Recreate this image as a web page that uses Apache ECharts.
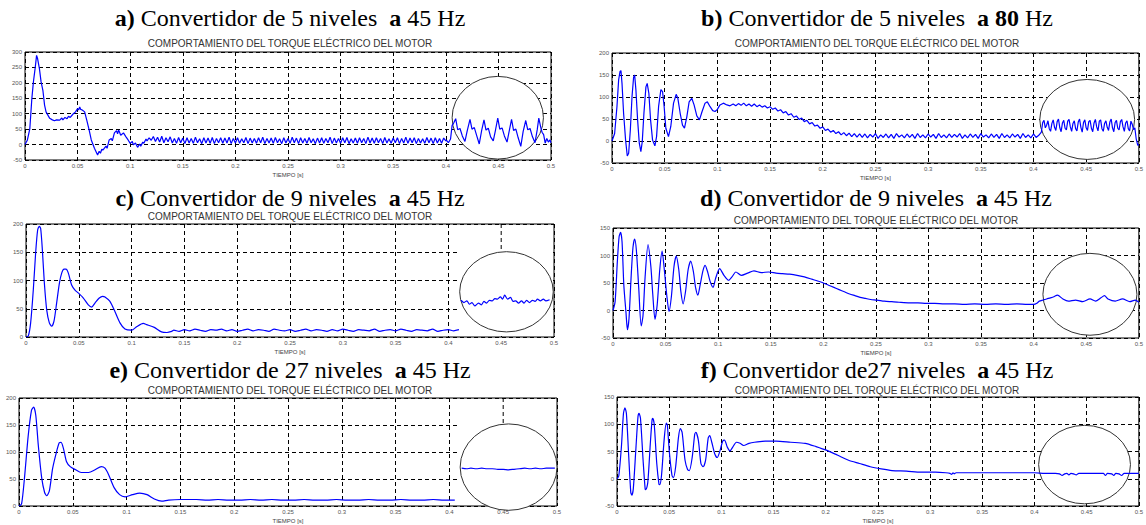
<!DOCTYPE html>
<html>
<head>
<meta charset="utf-8">
<script src="https://cdn.jsdelivr.net/npm/echarts@6/dist/echarts.min.js"></script>
<style>
  html, body { margin: 0; padding: 0; background: #fff; }
  #chart { width: 1146px; height: 525px; }
</style>
</head>
<body>
<div id="chart"></div>
<script>
// a) 5 niveles 45 Hz
const aStart = [[0,0],[0.0023,15],[0.0046,52],[0.0065,149],[0.008,203],[0.0098,252],[0.011,289],[0.012,278],[0.0137,246],[0.0153,203],[0.017,176],[0.0186,128],[0.020,106],[0.0235,85],[0.026,80],[0.028,77],[0.030,80],[0.033,79],[0.035,86],[0.036,80],[0.038,88],[0.040,84],[0.0414,92],[0.043,88],[0.0447,95],[0.046,100],[0.048,106],[0.050,117],[0.051,112],[0.052,122],[0.053,114],[0.0544,112],[0.0567,106],[0.0587,79],[0.061,47],[0.063,15],[0.066,-12],[0.069,-34],[0.0705,-22],[0.0717,-28],[0.073,-15],[0.074,-18],[0.077,-5],[0.078,-12],[0.080,15],[0.082,20],[0.083,12],[0.085,38],[0.087,45],[0.088,35],[0.089,47],[0.091,30],[0.0936,38],[0.096,25],[0.098,15],[0.100,4],[0.102,10],[0.103,-1],[0.105,5],[0.107,-9],[0.109,2],[0.110,-5],[0.112,8],[0.113,4],[0.115,18],[0.116,12],[0.118,22],[0.120,14]];
const aRipple = [26,10,24,8,27,6,22,9,25,5, 20,4,23,6,21,3,22,5,20,4, 24,6,19,3,22,5,21,4,23,3, 20,6,22,4,21,5,24,3,20,5, 22,4,19,6,23,3,21,5,20,4, 22,6,24,3,20,5,21,4,23,6, 19,3,22,5,20,4,24,6,21,3, 22,5,20,4,23,6,19,3,21,5, 22,4,20,6,24,3,21,5,20,4, 22,6,23,3,19,5,21,4,22,6, 20,3,24,5,21,4,22,6,20,3, 23,5,19,4,21,6,22,3,20,5, 24,4,21,6,22,3,20,5,19,4, 23,6,21,3,22,5,20,4,21,12];
const aZoom = [[0.4005,14],[0.4025,6],[0.4045,18],[0.4060,62],[0.4075,70],[0.4094,84],[0.4113,48],[0.4135,52],[0.4157,28],[0.4182,10],[0.4204,45],[0.423,82],[0.4249,50],[0.4271,55],[0.4293,30],[0.4318,2],[0.434,44],[0.4363,80],[0.4382,47],[0.4404,53],[0.4426,25],[0.4451,12],[0.4473,48],[0.4494,86],[0.4513,50],[0.4535,54],[0.4557,28],[0.4582,8],[0.4604,46],[0.4625,82],[0.4644,46],[0.4666,50],[0.4688,22],[0.4713,-6],[0.4735,42],[0.476,78],[0.4779,48],[0.4801,52],[0.4823,26],[0.4848,6],[0.487,50],[0.4884,86],[0.4903,55],[0.4915,40],[0.493,32],[0.4945,5],[0.496,20],[0.4975,8],[0.499,15],[0.5,6]];
const aInset = [0.4494, 87, 0.0434, 134, 0];

// b) 5 niveles 80 Hz
const bStart = [[0,0],[0.0025,17],[0.0047,78],[0.0063,139],[0.0076,158],[0.0085,160],[0.0095,131],[0.011,63],[0.0129,2],[0.0145,-34],[0.0158,-28],[0.0174,25],[0.019,101],[0.0205,145],[0.0215,150],[0.0227,116],[0.0243,48],[0.0259,-5],[0.0274,-24],[0.0287,-2],[0.0303,63],[0.0322,123],[0.0334,131],[0.035,108],[0.0366,48],[0.0385,2],[0.0407,-11],[0.0423,10],[0.0442,78],[0.0464,117],[0.048,112],[0.0495,78],[0.0511,29],[0.0536,10],[0.0558,33],[0.0584,86],[0.0609,106],[0.0625,97],[0.0647,63],[0.0669,36],[0.0688,29],[0.071,55],[0.0732,89],[0.0757,97],[0.0779,82],[0.0805,57],[0.083,48],[0.0855,67],[0.0883,86],[0.0905,89],[0.0931,78],[0.0956,69],[0.0978,67],[0.1,72],[0.1025,82],[0.1057,86],[0.109,82],[0.112,80]];
const bRipple = [84,80,85,81,86,80,84,79,84,78, 82,77,80,75,78,72,75,68,71,64, 67,59,62,54,57,49,52,44,47,39, 42,34,36,29,32,24,27,20,24,17, 21,14,19,12,18,10,17,9,16, 8,16,7,15,9,17,6,14,8,16, 7,15,6,17,9,14,7,16,8,15, 6,17,8,14,7,16,9,15,6,17, 8,14,7,16,8,15,9,17,6,14, 7,16,8,15,6,17,9,14,7,16, 8,15,6,17,8,14,7,16,9,15, 6,17,8,14,7,16,8,13];
const bZoom = [20,42,47,30,36,46,28,22,40,48, 31,24,44,50,30,21,41,47,29,25, 45,49,32,22,40,46,28,23,43,50, 31,20,42,48,30,24,44,47,29,21, 41,49,32,23,45,48,28,22,40,46, 31,24,43,50,30,21,42,47,29,25, 44,49,32,22,41,46,28,23,45,38, 26];
const bEnd = [[0.4962,30],[0.4975,5],[0.499,-10],[0.5,-8]];
const bInset = [0.451, 49, 0.045, 91, 0];

// c) 9 niveles 45 Hz
const cStart = [[0,0],[0.0022,2],[0.0044,25],[0.0069,83],[0.0091,148],[0.011,189],[0.0126,196],[0.0139,192],[0.0155,154],[0.0174,95],[0.0196,48],[0.0221,25],[0.0243,19],[0.0265,28],[0.029,60],[0.0316,95],[0.0338,113],[0.036,120],[0.0379,120],[0.0401,113],[0.0432,92],[0.0464,83],[0.0495,78],[0.0543,69],[0.059,57],[0.0622,53],[0.0653,60],[0.0694,69],[0.0725,72],[0.0748,71],[0.0795,63],[0.0842,45],[0.089,25],[0.0937,14],[0.1,12],[0.1047,18],[0.111,24],[0.1142,22],[0.1215,17],[0.1283,9],[0.1335,8],[0.138,10]];
const cRipple = [12,10,13,11,14,12,10,13,12,14, 11,13,10,12,14,11,13,12,10,14, 12,11,13,10,12,14,11,13,12,10, 13,11,14,12,10,13,12,11,14,10, 12,13,11,14,12,10,13,12,11,14, 10,12,13,11,13];
const cZoom = [[0.4119,65],[0.4147,61],[0.4175,64],[0.4199,58],[0.4223,61],[0.425,55],[0.4285,60],[0.4313,57],[0.4337,63],[0.4361,60],[0.4388,65],[0.4416,64],[0.444,68],[0.4464,67],[0.4492,71],[0.4513,67],[0.4533,74],[0.4561,67],[0.4588,70],[0.4613,63],[0.4637,64],[0.4664,60],[0.4692,64],[0.4716,60],[0.474,65],[0.4768,61],[0.4796,65],[0.482,63],[0.4844,67],[0.4871,64],[0.4899,67],[0.4923,64],[0.4958,66]];
const cInset = [0.455, 80, 0.0443, 71, 0.409];

// d) 9 niveles 45 Hz
const dStart = [[0,0],[0.002,16],[0.0041,88],[0.0058,134],[0.0072,142],[0.0086,125],[0.0103,46],[0.0124,-5],[0.0137,-35],[0.0152,-15],[0.0172,60],[0.019,115],[0.0206,130],[0.0222,110],[0.0245,40],[0.0268,-28],[0.0285,-10],[0.0305,60],[0.0333,120],[0.036,80],[0.0378,30],[0.0399,-16],[0.042,10],[0.0445,75],[0.0467,108],[0.049,70],[0.051,30],[0.0533,-2],[0.0555,25],[0.058,80],[0.0601,99],[0.0625,75],[0.0645,35],[0.0667,12],[0.069,35],[0.0715,75],[0.0739,90],[0.0765,70],[0.0785,42],[0.0807,28],[0.083,48],[0.0855,72],[0.0876,82],[0.09,70],[0.0925,52],[0.0952,42],[0.0975,58],[0.1014,76],[0.1055,64],[0.11,55],[0.1135,62],[0.1168,70],[0.122,64],[0.128,68],[0.134,72],[0.141,69],[0.148,70],[0.155,68],[0.161,67],[0.168,66],[0.175,64],[0.182,61],[0.189,57],[0.194,54],[0.199,51],[0.205,46],[0.21,42],[0.215,38],[0.22,34],[0.225,30],[0.23,27],[0.235,24],[0.24,22],[0.245,20],[0.251,19],[0.258,17],[0.265,16],[0.272,15],[0.282,14],[0.29,14],[0.298,13],[0.306,13],[0.315,12],[0.325,12],[0.334,11],[0.344,12],[0.354,11],[0.364,12],[0.374,11],[0.384,12],[0.394,11],[0.4,11],[0.403,13]];
const dZoom = [[0.4054,17],[0.409,19],[0.4123,21],[0.416,23],[0.4192,25],[0.4226,28],[0.4278,21],[0.433,17],[0.4398,19],[0.4467,16],[0.4536,21],[0.4588,17],[0.4639,23],[0.4673,27],[0.4707,21],[0.4776,17],[0.4845,21],[0.4914,16],[0.4965,19],[0.5,15]];
const dInset = [0.4535, 29.5, 0.0447, 74.5, 0];

// e) 27 niveles 45 Hz
const eStart = [[0,0],[0.0024,4],[0.0051,52],[0.0085,129],[0.0116,177],[0.0136,183],[0.0156,168],[0.018,111],[0.0211,52],[0.0238,25],[0.0258,19],[0.0282,28],[0.0313,70],[0.0347,99],[0.0374,117],[0.0391,118],[0.0415,105],[0.0442,82],[0.0476,73],[0.0527,67],[0.0578,62],[0.0646,62],[0.0707,67],[0.0765,73],[0.0799,70],[0.0833,58],[0.0884,34],[0.0935,21],[0.0986,17],[0.1054,21],[0.1122,24],[0.119,21],[0.1258,13],[0.1326,9],[0.139,11],[0.15,12]];
const eFlat = [12,12,11,12,11,11,12,11,12,11, 11,12,11,11,12,11,11,12,11,11, 12,11,11,12,11,11];
const eZoom = [[0.4114,70],[0.416,69],[0.42,70],[0.425,69],[0.43,70],[0.435,69],[0.44,69],[0.445,68],[0.45,68],[0.455,67],[0.46,68],[0.465,69],[0.47,70],[0.475,69],[0.48,70],[0.485,69],[0.49,70],[0.498,70]];
const eInset = [0.455, 72, 0.045, 80, 0.408];

// f) 27 niveles 45 Hz
const fStart = [[0,0],[0.0017,5],[0.0042,58],[0.0062,120],[0.0076,130],[0.009,120],[0.0111,46],[0.0132,-25],[0.0142,-30],[0.0156,-19],[0.018,52],[0.0201,114],[0.0211,120],[0.0225,111],[0.025,34],[0.027,-19],[0.0277,-20],[0.0295,-7],[0.0319,64],[0.0336,108],[0.0343,111],[0.0357,99],[0.0381,28],[0.0402,-10],[0.0409,-11],[0.0426,5],[0.0451,70],[0.0472,102],[0.0482,99],[0.0503,46],[0.0527,6],[0.0541,2],[0.0562,22],[0.0589,76],[0.0607,92],[0.0624,85],[0.0652,34],[0.0676,17],[0.0693,15],[0.0721,40],[0.0745,82],[0.0756,85],[0.078,70],[0.0804,28],[0.0825,22],[0.0849,34],[0.0874,75],[0.0888,79],[0.0908,67],[0.0936,46],[0.096,39],[0.0988,52],[0.1012,69],[0.103,71],[0.1057,58],[0.1082,51],[0.1109,58],[0.1144,67],[0.1179,65],[0.1213,61],[0.1265,65],[0.1317,67],[0.1421,69],[0.1525,69],[0.1664,67],[0.1803,65],[0.1907,59],[0.2011,52],[0.2115,43],[0.2219,34],[0.2323,28],[0.2427,22],[0.2531,18],[0.2635,15],[0.2774,14],[0.2912,12],[0.3051,12],[0.315,11],[0.319,10],[0.3205,8],[0.322,11],[0.323,9],[0.325,11],[0.34,11],[0.36,11],[0.3744,11],[0.39,11],[0.4,11]];
const fZoom = [[0.41,10],[0.42,10],[0.424,9],[0.4265,6],[0.429,9],[0.431,10],[0.433,7],[0.435,10],[0.4375,9],[0.44,7],[0.4425,10],[0.45,10],[0.46,10],[0.466,10],[0.468,6],[0.47,10],[0.474,9],[0.476,6],[0.478,10],[0.481,9],[0.4835,6],[0.486,10],[0.49,10],[0.5,10]];
const fInset = [0.448, 26, 0.044, 72, 0];

const xTicks = [0, 0.5, 0.05];
const insetGridX = 0.45;

function stepped(t0, dt, vals) {
  return vals.map(function (v, i) { return [+(t0 + i * dt).toFixed(5), v]; });
}

const panels = [
  { title: '{b|a)} Convertidor de 5 niveles  {b|a} 45 Hz', yMin: -50, yMax: 300, inset: aInset, smooth: false,
    data: aStart.concat(stepped(0.122, 0.002, aRipple), aZoom),
    grid: { left: 25, top: 52, width: 526, height: 108 }, tx: 290, ty: 18, sy: 43 },
  { title: '{b|b)} Convertidor de 5 niveles  {b|a} {b|80} Hz', yMin: -50, yMax: 200, inset: bInset, smooth: false,
    data: bStart.concat(stepped(0.115, 0.0025, bRipple), stepped(0.4075, 0.00125, bZoom), bEnd),
    grid: { left: 612, top: 53, width: 527, height: 110 }, tx: 877, ty: 18, sy: 43 },
  { title: '{b|c)} Convertidor de 9 niveles  {b|a} 45 Hz', yMin: 0, yMax: 200, inset: cInset, smooth: 0.25,
    data: cStart.concat(stepped(0.14, 0.005, cRipple), [[0.411, '-']], cZoom),
    grid: { left: 26, top: 224, width: 528, height: 113 }, tx: 290, ty: 198, sy: 216 },
  { title: '{b|d)} Convertidor de 9 niveles  {b|a} 45 Hz', yMin: -50, yMax: 150, inset: dInset, smooth: 0.25,
    data: dStart.concat(dZoom),
    grid: { left: 613, top: 228, width: 532, height: 110 }, tx: 876, ty: 198, sy: 220 },
  { title: '{b|e)} Convertidor de 27 niveles  {b|a} 45 Hz', yMin: 0, yMax: 200, inset: eInset, smooth: 0.25,
    data: eStart.concat(stepped(0.155, 0.01, eFlat), [[0.409, '-']], eZoom),
    grid: { left: 19, top: 398, width: 538, height: 113 }, tx: 290, ty: 370, sy: 390 },
  { title: '{b|f)} Convertidor de27 niveles  {b|a} 45 Hz', yMin: -50, yMax: 150, inset: fInset, smooth: 0.25,
    data: fStart.concat(fZoom),
    grid: { left: 617, top: 397, width: 526, height: 113 }, tx: 877, ty: 370, sy: 390 }
];

function renderInset(params, api) {
  var cs = params.coordSys;
  var c = api.coord([api.value(0), api.value(1)]);
  var s = api.size([api.value(2), api.value(3)]);
  var children = [];
  var coverFrom = api.value(4);
  if (coverFrom > 0) {
    var x0 = api.coord([coverFrom, 0])[0];
    children.push({ type: 'rect', shape: { x: x0, y: cs.y + 1, width: cs.x + cs.width - 1 - x0, height: cs.height - 2 }, style: { fill: '#fff' } });
    var gx = api.coord([insetGridX, 0])[0];
    children.push({ type: 'line', shape: { x1: gx, y1: cs.y, x2: gx, y2: c[1] - s[1] }, style: { stroke: '#000', lineWidth: 1, lineDash: [4, 3] } });
  }
  children.push({
    type: 'path',
    shape: { pathData: 'M0,50A50,50,0,1,0,100,50A50,50,0,1,0,0,50Z', x: c[0] - s[0], y: c[1] - s[1], width: 2 * s[0], height: 2 * s[1], layout: 'cover' },
    style: { fill: '#fff', stroke: '#333', lineWidth: 1 }
  });
  return { type: 'group', children: children };
}

const tickLabel = { fontSize: 6, color: '#555', fontFamily: 'Liberation Sans', margin: 3 };
const dashed = { show: true, lineStyle: { color: '#000', width: 1, type: [4, 3] } };

var grids = [], xAxes = [], yAxes = [], series = [], texts = [];
panels.forEach(function (p, i) {
  grids.push(Object.assign({ show: true, borderColor: '#000', borderWidth: 1, backgroundColor: '#fff' }, p.grid));
  xAxes.push({
    gridIndex: i, type: 'value', min: xTicks[0], max: xTicks[1], interval: xTicks[2],
    axisLine: { show: false }, axisTick: { show: false }, splitLine: dashed, axisLabel: tickLabel,
    name: 'TIEMPO [s]', nameLocation: 'middle', nameGap: 12,
    nameTextStyle: { fontSize: 6, color: '#444', fontFamily: 'Liberation Sans' }
  });
  yAxes.push({
    gridIndex: i, type: 'value', min: p.yMin, max: p.yMax, interval: 50,
    axisLine: { show: false }, axisTick: { show: false }, splitLine: dashed, axisLabel: tickLabel
  });
  series.push({
    type: 'custom', xAxisIndex: i, yAxisIndex: i, z: 1, clip: false, silent: true,
    renderItem: renderInset, data: [p.inset]
  });
  series.push({
    type: 'line', xAxisIndex: i, yAxisIndex: i, z: 3, showSymbol: false, smooth: p.smooth,
    connectNulls: false, lineStyle: { color: '#0000ff', width: 1.2 }, data: p.data
  });
  texts.push({
    type: 'text', x: p.tx, y: p.ty,
    style: { text: p.title, fill: '#000', font: '24px "Liberation Serif"', align: 'center', verticalAlign: 'middle',
      rich: { b: { fontWeight: 'bold', fontSize: 24, fontFamily: 'Liberation Serif' } } }
  });
  texts.push({
    type: 'text', x: p.tx, y: p.sy,
    style: { text: 'COMPORTAMIENTO DEL TORQUE ELÉCTRICO DEL MOTOR', fill: '#333', font: '10px "Liberation Sans"', align: 'center', verticalAlign: 'middle' }
  });
});

const chart = echarts.init(document.getElementById('chart'), null, { renderer: 'svg' });
chart.setOption({
  animation: false,
  backgroundColor: '#fff',
  grid: grids,
  xAxis: xAxes,
  yAxis: yAxes,
  series: series,
  graphic: texts
});
</script>
</body>
</html>
